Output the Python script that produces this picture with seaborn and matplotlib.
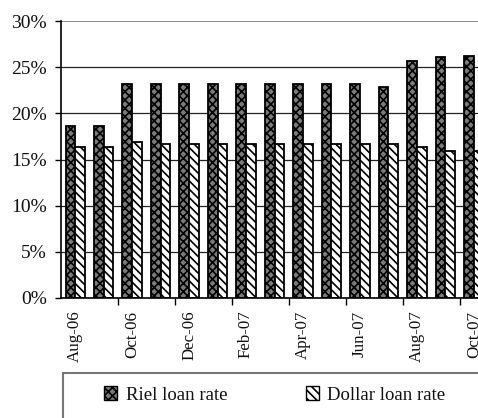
import numpy as np
import pandas as pd
import matplotlib
matplotlib.use("Agg")
import matplotlib.pyplot as plt
import seaborn as sns
from matplotlib.patches import Patch, Rectangle
from matplotlib.ticker import FuncFormatter

# Данные (в процентах)
months = ["Aug-06", "Sep-06", "Oct-06", "Nov-06", "Dec-06", "Jan-07", "Feb-07", "Mar-07",
          "Apr-07", "May-07", "Jun-07", "Jul-07", "Aug-07", "Sep-07", "Oct-07"]
riel_rate = [18.6, 18.6, 23.2, 23.2, 23.2, 23.2, 23.2, 23.2, 23.2, 23.2, 23.2, 22.9, 25.7, 26.1, 26.25]
dollar_rate = [16.3, 16.3, 16.85, 16.7, 16.7, 16.7, 16.7, 16.7, 16.7, 16.7, 16.7, 16.7, 16.3, 15.9, 15.9]
series_names = ["Riel loan rate", "Dollar loan rate"]

sns.set_style("white")
plt.rcParams["font.family"] = ["Liberation Serif", "DejaVu Serif"]
plt.rcParams["hatch.linewidth"] = 1.2

df = pd.DataFrame({
    "month": months * 2,
    "rate": riel_rate + dollar_rate,
    "series": [series_names[0]] * len(months) + [series_names[1]] * len(months),
})

fig = plt.figure(figsize=(4.78, 4.18), dpi=100)
ax = fig.add_axes([61 / 478, 1 - 298 / 418, 427 / 478, 277 / 418])

sns.barplot(data=df, x="month", y="rate", hue="series", order=months,
            hue_order=series_names, width=0.68, legend=False, ax=ax)

styles = [
    dict(facecolor="#7a7a7a", edgecolor="black", hatch="xxxx"),
    dict(facecolor="white", edgecolor="black", hatch="\\\\\\\\"),
]
n = len(months)
for i, bar in enumerate(ax.patches[:2 * n]):
    st = styles[i // n]
    bar.set_facecolor(st["facecolor"])
    bar.set_edgecolor(st["edgecolor"])
    bar.set_hatch(st["hatch"])
    bar.set_linewidth(1.3)

ax.set_ylim(0, 30)
ax.set_yticks(np.arange(0, 31, 5))
ax.yaxis.set_major_formatter(FuncFormatter(lambda v, p: f"{v:.0f}%"))
ax.set_xlim(-0.5, n - 0.5)
ax.set_xticks(np.arange(0, n, 2))
ax.set_xticklabels(months[::2], rotation=90)
ax.set_xticks(np.arange(1.5, n, 2), minor=True)
ax.tick_params(axis="x", which="major", length=0, labelsize=12.2, pad=9, labelcolor="#111111")
ax.tick_params(axis="x", which="minor", length=5, width=1, color="black", direction="out")
ax.tick_params(axis="y", length=4, width=1, color="black", direction="out", labelsize=14,
               pad=6, labelcolor="#111111")
ax.tick_params(bottom=True, left=True, which="both")

ax.set_axisbelow(True)
ax.yaxis.grid(True, color="#222222", linewidth=0.9)
ax.get_ygridlines()[-1].set_color("#888888")
ax.get_ygridlines()[-1].set_linewidth(1.4)
for s in ["top", "right"]:
    ax.spines[s].set_visible(False)
for s in ["left", "bottom"]:
    ax.spines[s].set_color("black")
    ax.spines[s].set_linewidth(1.2)
ax.set_xlabel("")
ax.set_ylabel("")

# Рамка легенды (уходит за край картинки)
fig.patches.append(Rectangle((63 / 478, -0.1), 0.95, 1 - 373 / 418 + 0.1,
                             transform=fig.transFigure, facecolor="white",
                             edgecolor="#777777", linewidth=1.5))

handles = [Patch(**styles[0], linewidth=1.0), Patch(**styles[1], linewidth=1.0)]
leg = fig.legend(handles, series_names, ncol=2, loc="center left",
                 bbox_to_anchor=(104 / 478, 1 - 395 / 418), frameon=False,
                 borderpad=0, borderaxespad=0, handlelength=0.7, handleheight=0.7,
                 handletextpad=0.45, columnspacing=4.2, fontsize=13.5)
for t in leg.get_texts():
    t.set_color("#111111")

fig.savefig("out.png", dpi=100)
